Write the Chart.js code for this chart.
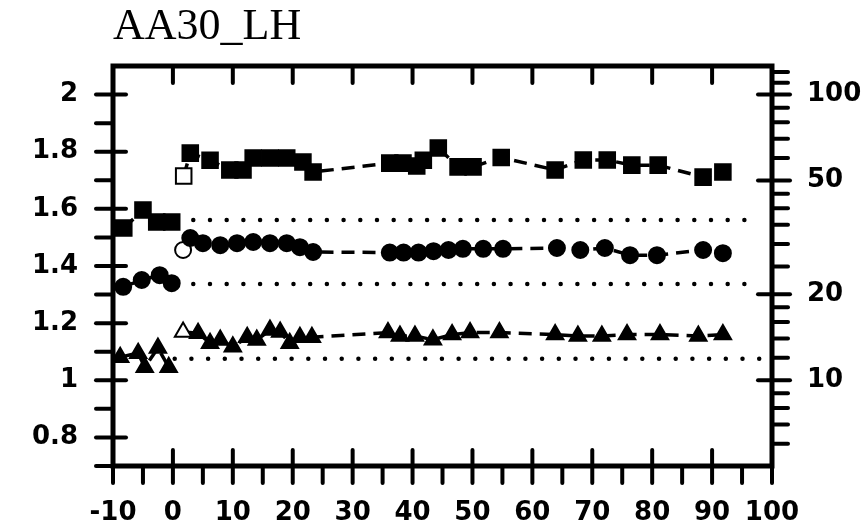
<!DOCTYPE html>
<html>
<head>
<meta charset="utf-8">
<title>AA30_LH</title>
<script src="https://cdn.jsdelivr.net/npm/chart.js@4.4.1/dist/chart.umd.min.js"></script>
<style>
  html, body { margin: 0; padding: 0; background: #fff; }
</style>
</head>
<body>
<canvas id="grafica" width="867" height="529"></canvas>
<script>
// Datos
const titulo = "AA30_LH";

const cuadX = [-8.2, -5, -2.7, -0.2, 1.8, 2.9, 6.2, 9.5, 11.7, 13.4, 16.2, 19, 21.7, 23.4, 36.2, 38.4, 40.7, 41.8, 44.3, 47.6, 50.1, 54.8, 63.8, 68.5, 72.5, 76.6, 81, 88.5, 91.8];
const cuadY = [1.533, 1.596, 1.554, 1.554, 1.715, 1.795, 1.77, 1.736, 1.736, 1.778, 1.778, 1.778, 1.764, 1.729, 1.76, 1.76, 1.75, 1.77, 1.813, 1.747, 1.747, 1.78, 1.736, 1.771, 1.771, 1.753, 1.753, 1.711, 1.729];

const circX = [-8.3, -5.2, -2.2, -0.2, 1.7, 2.9, 5.0, 7.9, 10.7, 13.4, 16.2, 19, 21.2, 23.4, 36.2, 38.5, 41, 43.5, 46, 48.4, 51.8, 55.1, 64.1, 68, 72.1, 76.3, 80.8, 88.5, 91.8];
const circY = [1.327, 1.351, 1.368, 1.34, 1.456, 1.498, 1.48, 1.473, 1.48, 1.484, 1.48, 1.48, 1.466, 1.449, 1.447, 1.447, 1.447, 1.452, 1.456, 1.46, 1.46, 1.46, 1.463, 1.456, 1.463, 1.438, 1.438, 1.456, 1.445];

const triX = [-8.8, -5.8, -4.7, -2.5, -0.7, 1.7, 4.2, 6.2, 7.9, 10, 12.4, 14, 16.2, 17.9, 19.5, 21.2, 23.2, 35.9, 37.9, 40.4, 43.4, 46.6, 49.6, 54.5, 63.8, 67.6, 71.6, 75.8, 81.3, 87.7, 91.8];
const triY = [1.081, 1.095, 1.046, 1.113, 1.046, 1.169, 1.165, 1.13, 1.141, 1.117, 1.151, 1.141, 1.176, 1.169, 1.13, 1.151, 1.151, 1.167, 1.155, 1.155, 1.142, 1.16, 1.167, 1.167, 1.16, 1.155, 1.155, 1.16, 1.16, 1.155, 1.16];

// líneas de referencia punteadas (media antes de 0)
const baseY = [1.561, 1.337, 1.075];
const baseInicio = [3.4, 3.4, 0.3];
const baseFin = [98, 98, 98];

// etiquetas y marcas de los ejes
const xEtiquetas = [-10, 0, 10, 20, 30, 40, 50, 60, 70, 80, 90, 100];
const xMenores = [-5, 5, 15, 25, 35, 45, 55, 65, 75, 85, 95];
const yEtiquetas = [0.8, 1, 1.2, 1.4, 1.6, 1.8, 2];
const yMenores = [0.7, 0.9, 1.1, 1.3, 1.5, 1.7, 1.9];
const y2Etiquetas = [10, 20, 50, 100];
const y2Menores = [6, 7, 8, 9, 12, 14, 16, 18, 25, 30, 35, 40, 45, 60, 70, 80, 90, 110, 120];

const fuente = { family: "DejaVu Sans", weight: "bold", size: 26 };

function juntar(xs, ys) {
    return xs.map((x, i) => ({ x: x, y: ys[i] }));
}

// el primer punto después de 0 va hueco
function rellenoHueco(xs) {
    const hueco = xs.findIndex((x) => x > 0);
    return (ctx) => (ctx.dataIndex === hueco ? "#fff" : "#000");
}

function serie(xs, ys, estilo, radio) {
    return {
        data: juntar(xs, ys),
        showLine: true,
        borderColor: "#000",
        borderWidth: 3.5,
        borderDash: [13, 8],
        // sin línea entre el tramo anterior y posterior a 0
        segment: {
            borderColor: (ctx) => (ctx.p0.parsed.x < 0 && ctx.p1.parsed.x > 0 ? "rgba(0,0,0,0)" : "#000"),
        },
        pointStyle: estilo,
        pointRadius: radio,
        pointBorderColor: "#000",
        pointBorderWidth: 2,
        pointBackgroundColor: rellenoHueco(xs),
    };
}

const datasets = [
    serie(cuadX, cuadY, "rect", 11),
    serie(circX, circY, "circle", 8),
    serie(triX, triY, "triangle", 9.5),
];

baseY.forEach((v, i) => {
    datasets.push({
        data: [{ x: baseInicio[i], y: v }, { x: baseFin[i], y: v }],
        showLine: true,
        borderColor: "#000",
        borderWidth: 4.5,
        borderDash: [0, 16.7],
        borderCapStyle: "round",
        pointRadius: 0,
    });
});

// marco, marcas de los ejes y título
const marcoPlugin = {
    id: "marco",
    afterDraw(chart) {
        const { ctx, chartArea: a, scales } = chart;
        const sx = scales.x, sy = scales.y, sy2 = scales.y2;
        const linea = (x1, y1, x2, y2) => {
            ctx.beginPath();
            ctx.moveTo(x1, y1);
            ctx.lineTo(x2, y2);
            ctx.stroke();
        };
        ctx.save();
        ctx.strokeStyle = "#000";
        ctx.lineWidth = 5;
        ctx.strokeRect(a.left, a.top, a.right - a.left, a.bottom - a.top);

        ctx.lineWidth = 4;
        ctx.lineCap = "round";
        yEtiquetas.forEach((v) => { const p = sy.getPixelForValue(v); linea(a.left - 17, p, a.left + 13, p); });
        yMenores.forEach((v) => { const p = sy.getPixelForValue(v); linea(a.left - 17, p, a.left, p); });
        y2Etiquetas.forEach((v) => { const p = sy2.getPixelForValue(v); linea(a.right - 14, p, a.right + 18, p); });
        y2Menores.forEach((v) => { const p = sy2.getPixelForValue(v); linea(a.right, p, a.right + 16, p); });
        xEtiquetas.forEach((v) => {
            const p = sx.getPixelForValue(v);
            linea(p, a.bottom - 16, p, a.bottom + 17);
            linea(p, a.top, p, a.top + 17);
        });
        xMenores.forEach((v) => { const p = sx.getPixelForValue(v); linea(p, a.bottom, p, a.bottom + 17); });

        ctx.fillStyle = "#000";
        ctx.font = '44px "Liberation Serif"';
        ctx.textBaseline = "alphabetic";
        ctx.textAlign = "left";
        ctx.fillText(titulo, 113, 39);
        ctx.restore();
    },
};

new Chart(document.getElementById("grafica").getContext("2d"), {
    type: "scatter",
    data: { datasets: datasets },
    plugins: [marcoPlugin],
    options: {
        responsive: false,
        animation: false,
        devicePixelRatio: 1,
        layout: { padding: { top: 66, left: 0, right: 0, bottom: 0 } },
        plugins: { legend: { display: false }, tooltip: { enabled: false } },
        scales: {
            x: {
                type: "linear",
                min: -10,
                max: 100,
                afterBuildTicks: (s) => { s.ticks = xEtiquetas.map((v) => ({ value: v })); },
                afterFit: (s) => { s.height = 63; },
                ticks: { font: fuente, color: "#000", padding: 32, maxRotation: 0, autoSkip: false, callback: (v) => String(v) },
                grid: { display: false, drawTicks: false },
                border: { display: false },
            },
            y: {
                type: "linear",
                position: "left",
                min: 0.7,
                max: 2.1,
                afterBuildTicks: (s) => { s.ticks = yEtiquetas.map((v) => ({ value: v })); },
                afterFit: (s) => { s.width = 113; },
                ticks: { font: fuente, color: "#000", padding: 35, callback: (v) => String(Math.round(v * 10) / 10) },
                grid: { display: false, drawTicks: false },
                border: { display: false },
            },
            y2: {
                type: "logarithmic",
                position: "right",
                min: Math.pow(10, 0.7),
                max: Math.pow(10, 2.1),
                afterBuildTicks: (s) => { s.ticks = y2Etiquetas.map((v) => ({ value: v })); },
                afterFit: (s) => { s.width = 95; },
                ticks: { font: fuente, color: "#000", padding: 35, callback: (v) => String(v) },
                grid: { display: false, drawTicks: false },
                border: { display: false },
            },
        },
    },
});
</script>
</body>
</html>
